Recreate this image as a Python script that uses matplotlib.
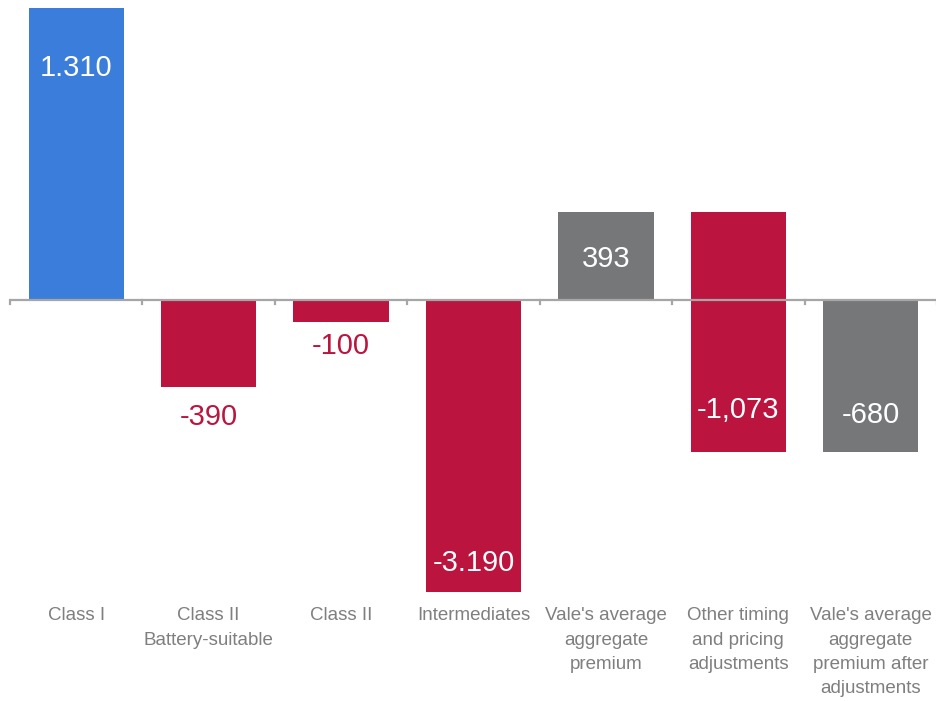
import matplotlib
matplotlib.use("Agg")
import matplotlib.pyplot as plt

categories = ["Class I", "Class II\nBattery-suitable", "Class II", "Intermediates",
              "Vale's average\naggregate\npremium", "Other timing\nand pricing\nadjustments",
              "Vale's average\naggregate\npremium after\nadjustments"]
values = [1310, -390, -100, -3190, 393, -1073, -680]
bases = [0, 0, 0, 0, 0, 393, 0]
value_labels = ["1.310", "-390", "-100", "-3.190", "393", "-1,073", "-680"]

BLUE = "#3a7dda"
RED = "#bb143e"
GRAY = "#767779"
colors = [BLUE, RED, RED, RED, GRAY, RED, GRAY]
label_colors = ["white", RED, RED, "white", "white", "white", "white"]
label_y = [1040, -525, -206, -1180, 184, -493, -516]

plt.rcParams['font.family'] = ['Liberation Sans', 'DejaVu Sans']

fig = plt.figure(figsize=(9.36, 7.01), dpi=100)
ax = fig.add_axes([10/936, (701-592)/701, 927/936, 584/701])

x = list(range(len(categories)))
ax.bar(x, values, bottom=bases, width=0.72, color=colors, zorder=2)

ax.set_xlim(-0.5, len(categories) - 0.5)
ax.set_ylim(-1310, 1310)

for i in x:
    ax.text(i, label_y[i], value_labels[i], ha="center", va="center",
            fontsize=21, color=label_colors[i], zorder=4)

axis_col = "#a6a6a6"
ax.axhline(0, color=axis_col, lw=1.6, zorder=3)
for b in [i - 0.5 for i in x] + [len(categories) - 0.5]:
    ax.plot([b, b], [0, -20], color=axis_col, lw=1.6, zorder=3, clip_on=False)

for s in ax.spines.values():
    s.set_visible(False)
ax.set_xticks([])
ax.set_yticks([])

for i, c in enumerate(categories):
    ax.annotate(c, xy=(i, -1310), xycoords="data", xytext=(0, -11),
                textcoords="offset points", ha="center", va="top",
                fontsize=13.5, color="#7f7f7f", linespacing=1.56,
                annotation_clip=False)

fig.savefig("out.png", dpi=100)
